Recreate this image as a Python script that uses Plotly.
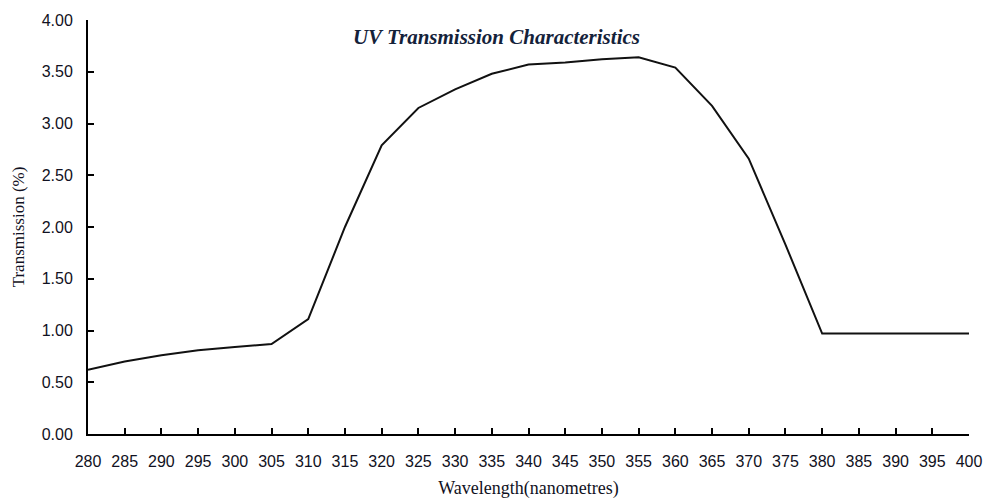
import plotly.graph_objects as go

wavelength = [280, 285, 290, 295, 300, 305, 310, 315, 320, 325, 330, 335, 340,
              345, 350, 355, 360, 365, 370, 375, 380, 385, 390, 395, 400]
transmission = [0.62, 0.70, 0.76, 0.81, 0.84, 0.87, 1.11, 2.00, 2.79, 3.15, 3.33,
                3.48, 3.57, 3.59, 3.62, 3.64, 3.54, 3.17, 2.66, 1.83, 0.97, 0.97,
                0.97, 0.97, 0.97]
x_ticks = list(range(280, 401, 5))
y_ticks = [0, 0.5, 1.0, 1.5, 2.0, 2.5, 3.0, 3.5, 4.0]

fig = go.Figure()
fig.add_trace(go.Scatter(x=wavelength, y=transmission, mode="lines",
                         line=dict(color="#111111", width=2), showlegend=False))

fig.update_layout(
    width=985, height=502,
    margin=dict(l=88, r=16, t=20, b=68, autoexpand=False),
    paper_bgcolor="white", plot_bgcolor="white",
    title=dict(text="<b><i>UV Transmission Characteristics</i></b>",
               x=0.504, xanchor="center", y=0.927, yanchor="middle",
               font=dict(family="Liberation Serif", size=21, color="#14223a")),
    xaxis=dict(range=[280, 400], tickvals=x_ticks, ticktext=[str(v) for v in x_ticks],
               automargin=False,
               showgrid=False, zeroline=False, showline=True, linecolor="black",
               linewidth=2, ticks="inside", ticklen=6, tickwidth=2, tickcolor="black",
               tickfont=dict(family="Liberation Sans", size=16, color="#111122"),
               ticklabelstandoff=12,
               title=dict(text="Wavelength(nanometres)", standoff=12,
                          font=dict(family="Liberation Serif", size=18, color="#111122"))),
    yaxis=dict(range=[0, 4], tickvals=y_ticks, ticktext=["%.2f" % v for v in y_ticks],
               automargin=False,
               showgrid=False, zeroline=False, showline=True, linecolor="black",
               linewidth=2, ticks="inside", ticklen=6, tickwidth=2, tickcolor="black",
               tickfont=dict(family="Liberation Sans", size=16, color="#111122"),
               ticklabelstandoff=10,
               title=dict(text="Transmission (%)", standoff=13,
                          font=dict(family="Liberation Serif", size=17, color="#111122"))),
)

fig.write_html("out.html", config={"displayModeBar": False},
               post_script="document.body.style.margin='0';document.body.style.overflow='hidden';")
